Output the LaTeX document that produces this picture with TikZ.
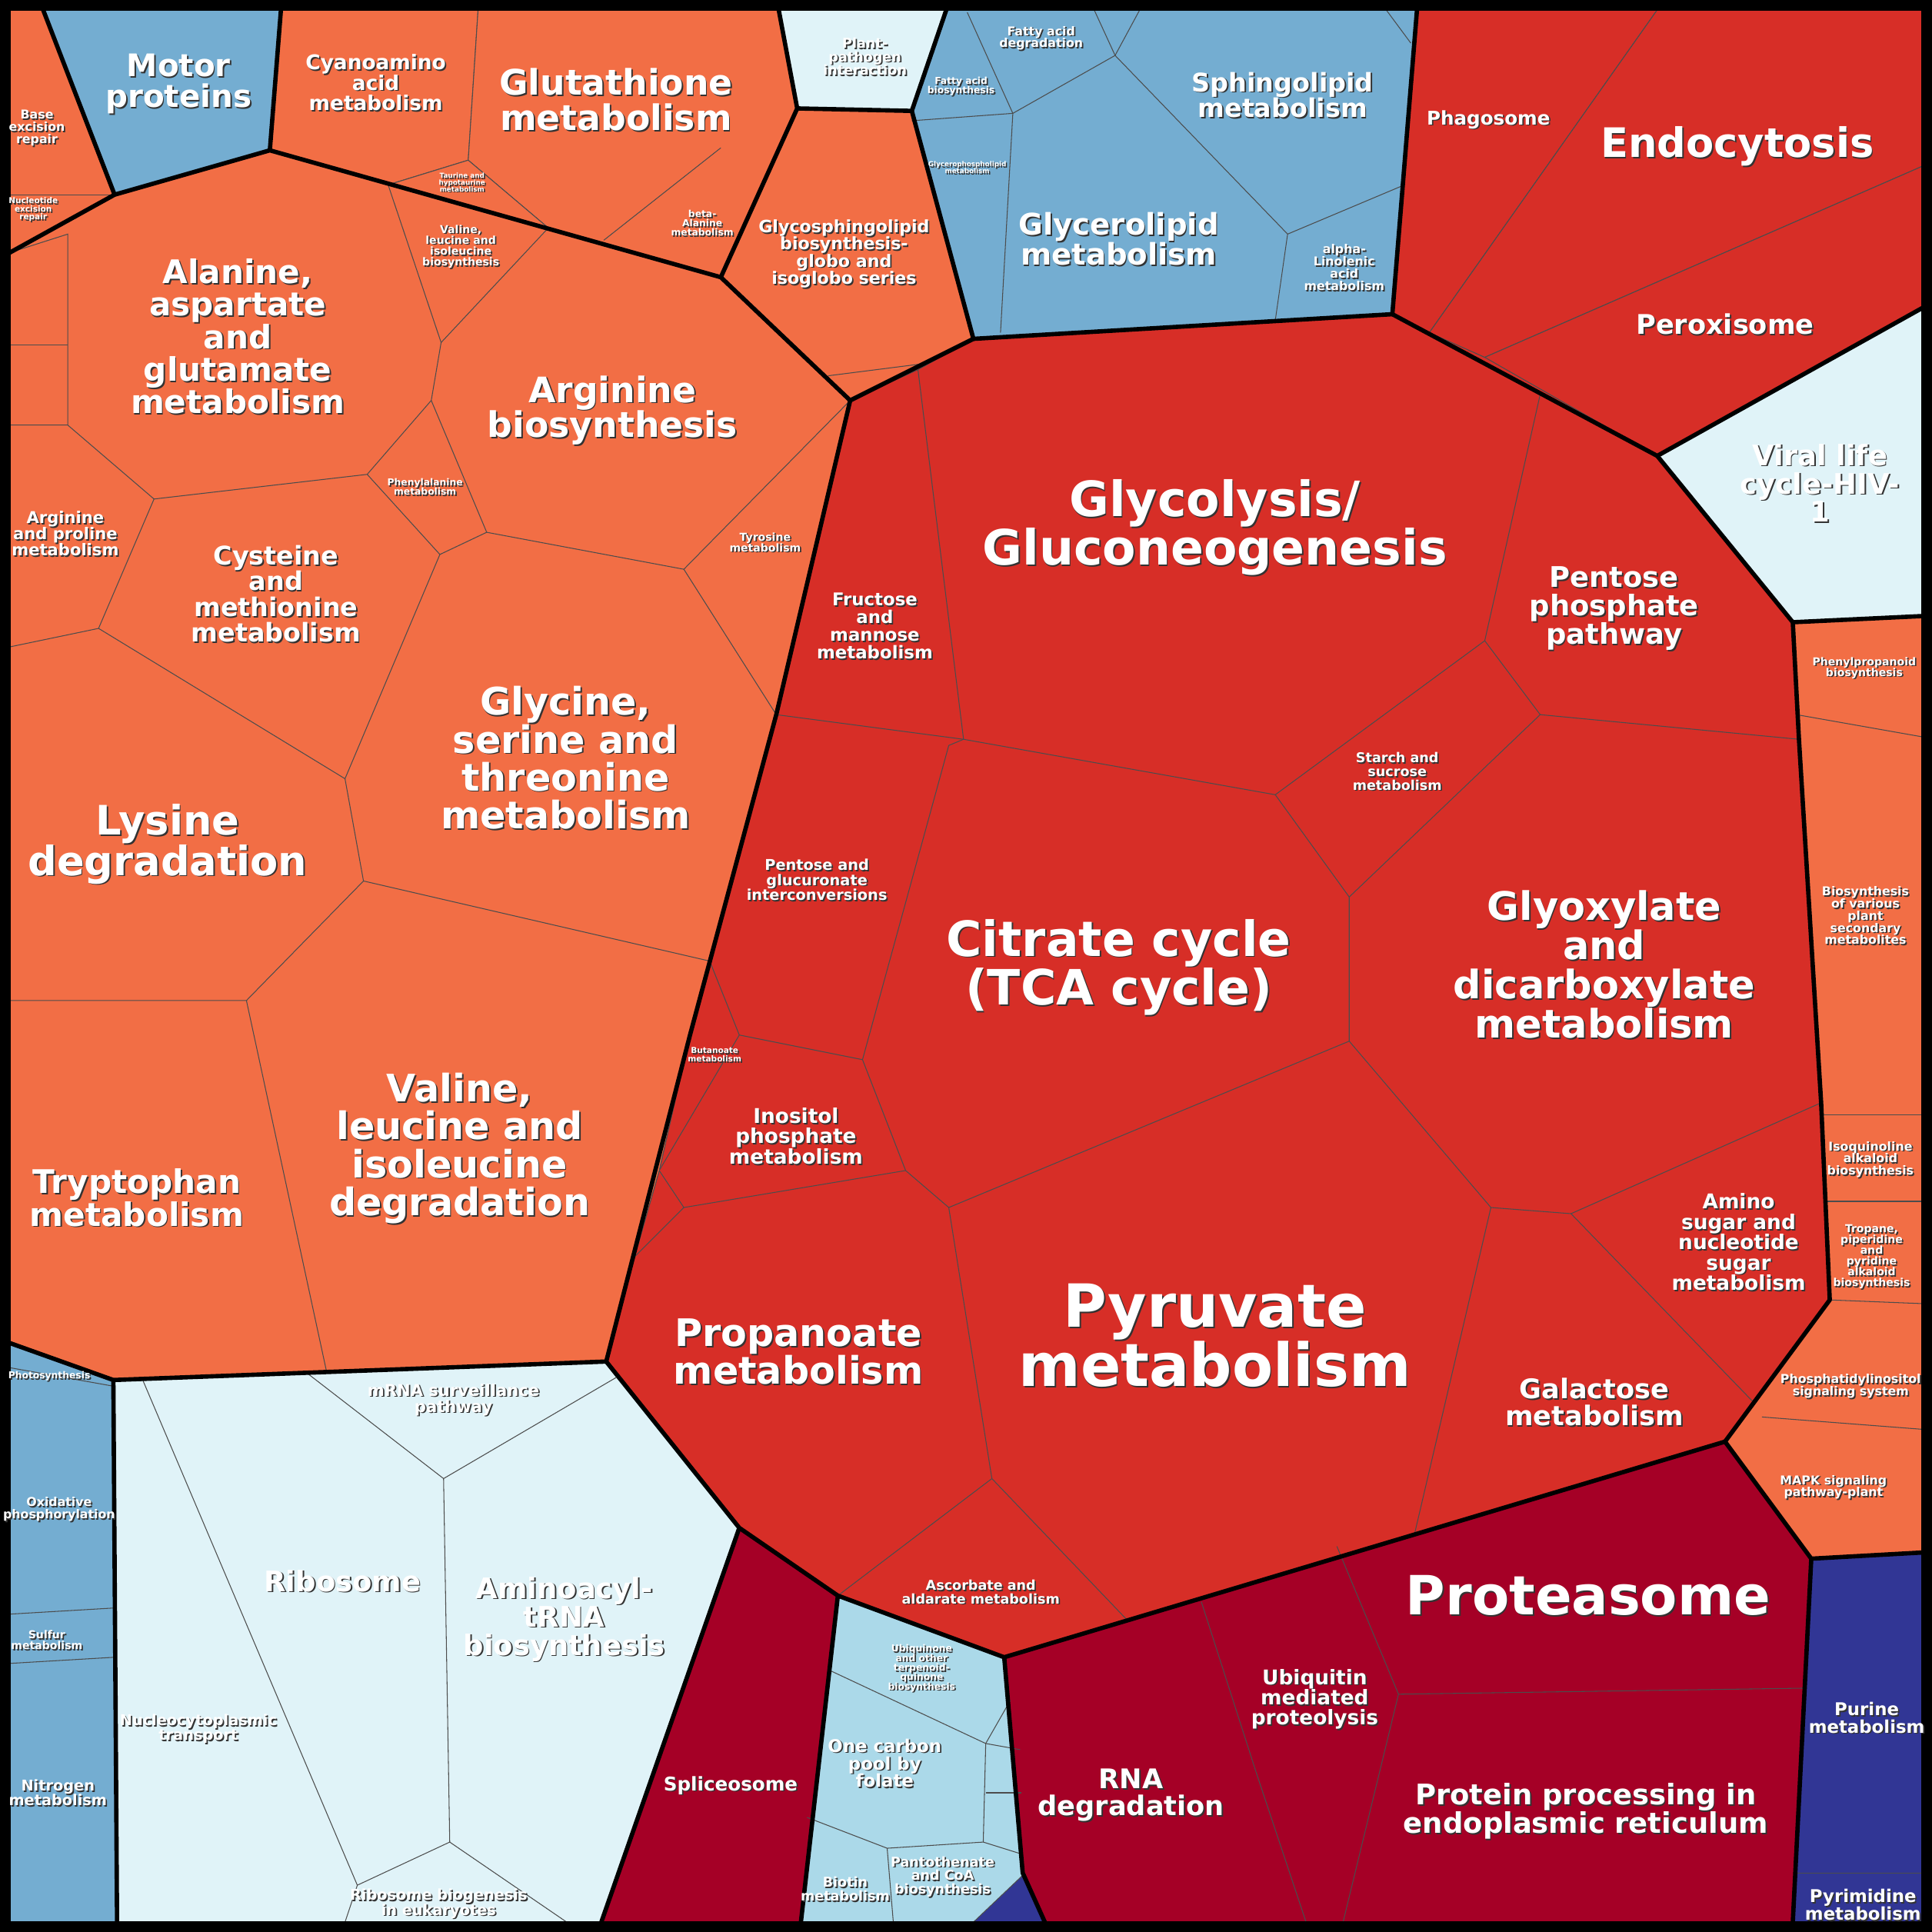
\documentclass[tikz,border=0pt]{standalone}
\usepackage{fontspec}
\setmainfont{DejaVu Sans}
\definecolor{cor}{HTML}{F26E45}
\definecolor{cred}{HTML}{D72E27}
\definecolor{cdr}{HTML}{A50026}
\definecolor{cbl}{HTML}{74ADD1}
\definecolor{cpl}{HTML}{E0F3F8}
\definecolor{clb}{HTML}{ABD9E9}
\definecolor{cdb}{HTML}{313695}
\tikzset{cell/.style={draw=black!70,line width=0.3pt},grp/.style={draw=black,line width=1.6pt,line join=round}}
\newcommand\lbl[4]{%
 \node[font=\bfseries\fontsize{#3}{#3}\selectfont,text=black!80,align=center,xshift=0.5pt,yshift=-0.5pt] at (#1,#2) {#4};
 \node[font=\bfseries\fontsize{#3}{#3}\selectfont,text=white,align=center] at (#1,#2) {#4};}
\begin{document}
\begin{tikzpicture}[x=0.01602cm,y=-0.01602cm]
\fill[black] (0,0) rectangle (1568,1568);
\useasboundingbox (0,0) rectangle (1568,1568);
% top left
\filldraw[cell,fill=cor] (8,8)--(35,8)--(93,158)--(8,205)--cycle;
\draw[cell] (8,158)--(93,158);
\filldraw[cell,fill=cbl] (35,8)--(228,8)--(219,122)--(93,158)--cycle;
\filldraw[cell,fill=cor] (228,8)--(388,8)--(380,130)--(315,150)--(219,122)--cycle;
\filldraw[cell,fill=cor] (388,8)--(632,8)--(647,88)--(585,225)--(445,185)--(380,130)--cycle;
\filldraw[cell,fill=cor] (315,150)--(380,130)--(445,185)--cycle;
\draw[cell] (490,195)--(585,120);
\filldraw[cell,fill=cpl] (632,8)--(768,8)--(740,90)--(647,88)--cycle;
\filldraw[cell,fill=cor] (647,88)--(740,90)--(790,275)--(690,325)--(585,225)--cycle;
\draw[cell] (672,305)--(790,290);
% lipid blue
\filldraw[cell,fill=cbl] (768,8)--(1150,8)--(1130,265)--(790,275)--(740,90)--cycle;
\draw[cell] (740,98)--(822,92)--(812,270);
\draw[cell] (822,92)--(785,10); \draw[cell] (822,92)--(905,45)--(888,8); \draw[cell] (905,45)--(925,8);
\draw[cell] (905,45)--(1045,190)--(1035,260); \draw[cell] (1045,190)--(1140,150);
\draw[cell] (1125,8)--(1145,35);
% top right red
\fill[cred] (1130,255)--(1160,270)--(1205,290)--(1345,370)--cycle;
\filldraw[cell,fill=cred] (1150,8)--(1345,8)--(1160,270)--(1130,265)--cycle;
\filldraw[cell,fill=cred] (1345,8)--(1560,8)--(1560,135)--(1205,290)--(1160,270)--cycle;
\filldraw[cell,fill=cred] (1560,135)--(1560,250)--(1345,370)--(1205,290)--cycle;
\filldraw[cell,fill=cpl] (1560,250)--(1560,500)--(1455,505)--(1345,370)--cycle;
% central red
\filldraw[cell,fill=cred] (690,325)--(790,275)--(1130,255)--(1345,370)--(1455,505)--(1460,600)--(1478,895)--(1485,1055)--(1400,1170)--(815,1345)--(680,1295)--(600,1240)--(492,1105)--(515,1020)--(535,950)--(560,840)--(630,580)--cycle;
\draw[cell] (690,325)--(745,300)--(790,275);
\draw[cell] (745,300)--(782,600)--(630,580);
\draw[cell] (782,600)--(1035,645)--(1205,520)--(1250,320)--(1130,255);
\draw[cell] (1205,520)--(1250,580)--(1460,600);
\draw[cell] (1250,580)--(1095,728)--(1035,645);
\draw[cell] (1095,728)--(1095,845)--(1210,980)--(1275,985)--(1478,895);
\draw[cell] (1275,985)--(1425,1140);
\draw[cell] (1210,980)--(1148,1245);
\draw[cell] (782,600)--(770,605)--(700,860)--(735,950)--(770,980)--(1095,845);
\draw[cell] (700,860)--(600,840)--(576,780); \draw[cell] (600,840)--(535,950);
\draw[cell] (735,950)--(555,980)--(535,950); \draw[cell] (555,980)--(515,1020);
\draw[cell] (770,980)--(805,1200)--(915,1315); \draw[cell] (805,1200)--(680,1295);
% right orange strip
\filldraw[cell,fill=cor] (1455,505)--(1560,500)--(1560,1260)--(1470,1265)--(1400,1170)--(1485,1055)--(1478,895)--(1460,600)--cycle;
\draw[cell] (1458,580)--(1560,598); \draw[cell] (1478,905)--(1560,905);
\draw[cell] (1480,975)--(1560,975); \draw[cell] (1485,1055)--(1560,1058);
\draw[cell] (1430,1150)--(1560,1160);
% dark red
\filldraw[cell,fill=cdr] (815,1345)--(1400,1170)--(1470,1265)--(1455,1560)--(848,1560)--(830,1520)--cycle;
\draw[cell] (1085,1255)--(1135,1375)--(1470,1370); \draw[cell] (1135,1375)--(1090,1560);
\draw[cell] (975,1300)--(1020,1440)--(1060,1560);
\filldraw[cell,fill=cdr] (600,1240)--(680,1295)--(650,1560)--(488,1560)--cycle;
% cofactors light blue
\filldraw[cell,fill=clb] (680,1295)--(815,1345)--(830,1520)--(848,1560)--(650,1560)--cycle;
\draw[cell] (672,1355)--(800,1415)--(820,1380); \draw[cell] (800,1415)--(798,1495)--(830,1505);
\draw[cell] (798,1495)--(720,1500)--(655,1475); \draw[cell] (720,1500)--(725,1560);
\draw[cell] (800,1415)--(828,1420); \draw[cell] (800,1455)--(829,1455);
\filldraw[cell,fill=cdb] (790,1560)--(830,1522)--(848,1560)--cycle;
% dark blue nucleotide
\filldraw[cell,fill=cdb] (1470,1265)--(1560,1260)--(1560,1560)--(1455,1560)--cycle;
\draw[cell] (1458,1520)--(1560,1520);
% pale genetic info
\filldraw[cell,fill=cpl] (92,1120)--(492,1105)--(600,1240)--(488,1560)--(95,1560)--cycle;
\draw[cell] (250,1115)--(360,1200)--(500,1118); \draw[cell] (360,1200)--(365,1495);
\draw[cell] (365,1495)--(290,1530)--(280,1560); \draw[cell] (365,1495)--(460,1560);
\draw[cell] (115,1118)--(290,1530);
% left blue strip
\filldraw[cell,fill=cbl] (8,1090)--(92,1120)--(95,1560)--(8,1560)--cycle;
\draw[cell] (8,1110)--(92,1125); \draw[cell] (8,1310)--(93,1305); \draw[cell] (8,1350)--(93,1345);
% orange amino region
\filldraw[cell,fill=cor] (8,205)--(93,158)--(219,122)--(585,225)--(690,325)--(630,580)--(576,780)--(560,840)--(535,950)--(515,1020)--(492,1105)--(92,1120)--(8,1090)--cycle;
\draw[cell] (8,205)--(55,190)--(55,345)--(8,345); \draw[cell] (8,280)--(55,280);
\draw[cell] (55,345)--(125,405)--(298,385)--(350,325)--(358,278)--(315,150);
\draw[cell] (358,278)--(445,185);
\draw[cell] (350,325)--(395,432)--(357,450)--(298,385);
\draw[cell] (395,432)--(555,462)--(690,325); \draw[cell] (555,462)--(630,580);
\draw[cell] (125,405)--(80,510)--(8,525); \draw[cell] (80,510)--(280,632)--(357,450);
\draw[cell] (280,632)--(295,715)--(576,780); \draw[cell] (295,715)--(200,812)--(8,812);
\draw[cell] (200,812)--(265,1113);
% group borders
\draw[grp] (8,205)--(93,158)--(219,122)--(585,225)--(690,325)--(630,580)--(560,840)--(492,1105)--(92,1120)--(8,1090);
\draw[grp] (93,158)--(35,8); \draw[grp] (219,122)--(228,8);
\draw[grp] (585,225)--(647,88)--(632,8); \draw[grp] (647,88)--(740,90)--(768,8); \draw[grp] (740,90)--(790,275)--(690,325);
\draw[grp] (790,275)--(1130,255)--(1150,8); \draw[grp] (1130,255)--(1345,370)--(1560,250);
\draw[grp] (1345,370)--(1455,505)--(1560,500); \draw[grp] (1455,505)--(1460,600)--(1478,895)--(1485,1055)--(1400,1170)--(1470,1265)--(1560,1260);
\draw[grp] (1400,1170)--(815,1345)--(680,1295)--(600,1240)--(492,1105);
\draw[grp] (1470,1265)--(1455,1560); \draw[grp] (815,1345)--(830,1520)--(848,1560);
\draw[grp] (680,1295)--(650,1560); \draw[grp] (600,1240)--(488,1560);
\draw[grp] (92,1120)--(95,1560);
\draw[black,line width=8pt] (0,0) rectangle (1568,1568);
% labels
\lbl{145}{68}{11.5}{Motor\\proteins}
\lbl{30}{104}{4.5}{Base\\excision\\repair}
\lbl{27}{170}{3}{Nucleotide\\excision\\repair}
\lbl{305}{67}{7.5}{Cyanoamino\\acid\\metabolism}
\lbl{500}{81}{13}{Glutathione\\metabolism}
\lbl{375}{148}{2.5}{Taurine and\\hypotaurine\\metabolism}
\lbl{570}{181}{3.5}{beta-\\Alanine\\metabolism}
\lbl{702}{46}{5}{Plant-\\pathogen\\interaction}
\lbl{685}{206}{6.3}{Glycosphingolipid\\biosynthesis-\\globo and\\isoglobo series}
\lbl{845}{31}{4.5}{Fatty acid\\degradation}
\lbl{780}{70}{3.5}{Fatty acid\\biosynthesis}
\lbl{1041}{77}{9.5}{Sphingolipid\\metabolism}
\lbl{908}{194}{11}{Glycerolipid\\metabolism}
\lbl{1091}{217}{4.5}{alpha-\\Linolenic\\acid\\metabolism}
\lbl{785}{136}{2.5}{Glycerophospholipid\\metabolism}
\lbl{1208}{97}{7}{Phagosome}
\lbl{1410}{119}{15}{Endocytosis}
\lbl{1400}{263}{10}{Peroxisome}
\lbl{1477}{392}{10.5}{Viral life\\cycle-HIV-\\1}
\lbl{193}{273}{12}{Alanine,\\aspartate\\and\\glutamate\\metabolism}
\lbl{374}{200}{4}{Valine,\\leucine and\\isoleucine\\biosynthesis}
\lbl{497}{333}{13}{Arginine\\biosynthesis}
\lbl{345}{395}{3.5}{Phenylalanine\\metabolism}
\lbl{621}{440}{4}{Tyrosine\\metabolism}
\lbl{53}{433}{6}{Arginine\\and proline\\metabolism}
\lbl{224}{482}{9.5}{Cysteine\\and\\methionine\\metabolism}
\lbl{459}{615}{14}{Glycine,\\serine and\\threonine\\metabolism}
\lbl{136}{685}{15}{Lysine\\degradation}
\lbl{111}{972}{12}{Tryptophan\\metabolism}
\lbl{373}{932}{14}{Valine,\\leucine and\\isoleucine\\degradation}
\lbl{710}{508}{6.5}{Fructose\\and\\mannose\\metabolism}
\lbl{986}{428}{18}{Glycolysis/\\Gluconeogenesis}
\lbl{1310}{494}{10.5}{Pentose\\phosphate\\pathway}
\lbl{1134}{626}{5}{Starch and\\sucrose\\metabolism}
\lbl{663}{714}{5.5}{Pentose and\\glucuronate\\interconversions}
\lbl{908}{785}{18}{Citrate cycle\\(TCA cycle)}
\lbl{1302}{783}{14.5}{Glyoxylate\\and\\dicarboxylate\\metabolism}
\lbl{580}{856}{3}{Butanoate\\metabolism}
\lbl{646}{922}{7.5}{Inositol\\phosphate\\metabolism}
\lbl{648}{1097}{14}{Propanoate\\metabolism}
\lbl{986}{1084}{22}{Pyruvate\\metabolism}
\lbl{1411}{1008}{7.5}{Amino\\sugar and\\nucleotide\\sugar\\metabolism}
\lbl{1294}{1138}{10}{Galactose\\metabolism}
\lbl{796}{1292}{5}{Ascorbate and\\aldarate metabolism}
\lbl{1513}{542}{4}{Phenylpropanoid\\biosynthesis}
\lbl{1514}{743}{4.5}{Biosynthesis\\of various\\plant\\secondary\\metabolites}
\lbl{1518}{941}{4.5}{Isoquinoline\\alkaloid\\biosynthesis}
\lbl{1519}{1020}{4}{Tropane,\\piperidine\\and\\pyridine\\alkaloid\\biosynthesis}
\lbl{1502}{1125}{4.5}{Phosphatidylinositol\\signaling system}
\lbl{1488}{1207}{4.5}{MAPK signaling\\pathway-plant}
\lbl{1289}{1295}{20}{Proteasome}
\lbl{1067}{1379}{7.5}{Ubiquitin\\mediated\\proteolysis}
\lbl{918}{1457}{10}{RNA\\degradation}
\lbl{1287}{1470}{10.5}{Protein processing in\\endoplasmic reticulum}
\lbl{593}{1449}{7}{Spliceosome}
\lbl{748}{1354}{3.5}{Ubiquinone\\and other\\terpenoid-\\quinone\\biosynthesis}
\lbl{718}{1431}{6.5}{One carbon\\pool by\\folate}
\lbl{765}{1523}{5}{Pantothenate\\and CoA\\biosynthesis}
\lbl{686}{1533}{5}{Biotin\\metabolism}
\lbl{1515}{1394}{6.5}{Purine\\metabolism}
\lbl{1512}{1546}{6.5}{Pyrimidine\\metabolism}
\lbl{368}{1136}{6}{mRNA surveillance\\pathway}
\lbl{278}{1283}{10.5}{Ribosome}
\lbl{458}{1314}{10.5}{Aminoacyl-\\tRNA\\biosynthesis}
\lbl{161}{1403}{5.5}{Nucleocytoplasmic\\transport}
\lbl{356}{1545}{5.5}{Ribosome biogenesis\\in eukaryotes}
\lbl{40}{1117}{3.5}{Photosynthesis}
\lbl{48}{1225}{4.5}{Oxidative\\phosphorylation}
\lbl{38}{1331}{4}{Sulfur\\metabolism}
\lbl{47}{1455}{5.5}{Nitrogen\\metabolism}
\end{tikzpicture}
\end{document}
